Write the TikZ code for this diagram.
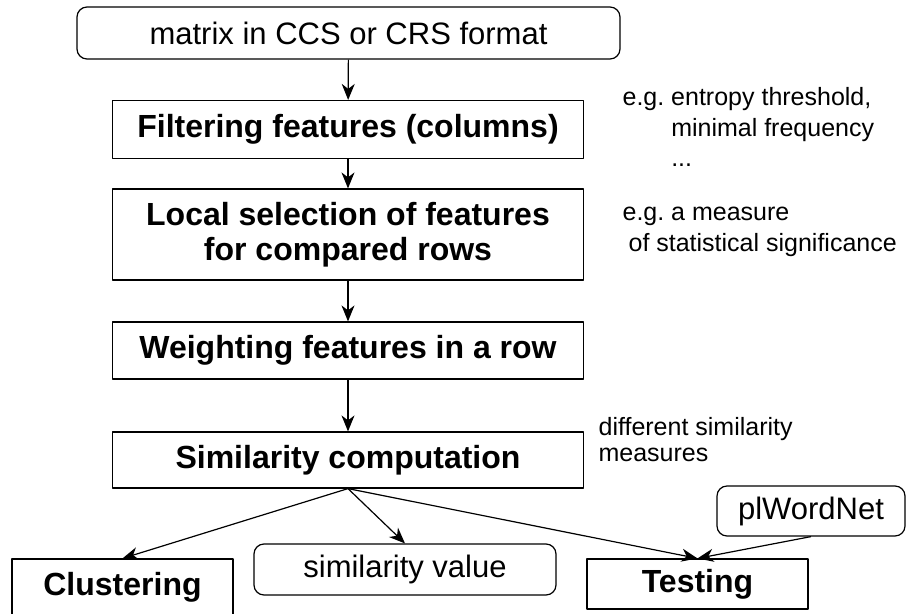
\documentclass[tikz,border=0pt]{standalone}
\usepackage{fontspec}
\setmainfont{Liberation Sans}
\usetikzlibrary{arrows.meta}

\begin{document}
\begin{tikzpicture}[x=1pt,y=-1pt,line join=round,line width=1.2pt,
    >={Stealth[length=16pt,width=13pt,inset=5pt]}]
	\tikzset{
		stage/.style={draw,rectangle,minimum width=471pt,inner sep=0pt,align=center,
			font=\fontsize{32}{35}\selectfont\bfseries},
		datum/.style={draw,rectangle,rounded corners=10pt,inner sep=0pt,
			font=\fontsize{31}{37}\selectfont},
		outcome/.style={draw,rectangle,inner sep=0pt,font=\fontsize{32}{37}\selectfont\bfseries},
		remark/.style={anchor=north west,align=left,inner sep=0pt,font=\fontsize{25}{30.5}\selectfont}
	}
	\useasboundingbox (0,0) rectangle (907,613);
	% pipeline
	\node[datum,minimum width=543pt,minimum height=52pt] (src) at (348.5,33) {matrix in CCS or CRS format};
	\node[stage,minimum height=58pt] (filt) at (348,129.5) {Filtering features (columns)};
	\node[stage,minimum height=91pt] (local) at (348,234.5) {Local selection of features\\for compared rows};
	\node[stage,minimum height=57pt] (weight) at (348,350.5) {Weighting features in a row};
	\node[stage,minimum height=56pt] (simc) at (348,460) {Similarity computation};
	% results
	\node[outcome,minimum width=221pt,minimum height=57pt] (clus) at (122.5,587.5) {Clustering};
	\node[datum,minimum width=302pt,minimum height=51pt] (simval) at (405,569.5) {similarity value};
	\node[outcome,minimum width=221pt,minimum height=50pt] (test) at (697.5,584) {Testing};
	\node[datum,minimum width=188pt,minimum height=50pt] (wn) at (811,511) {plWordNet};
	% remarks (a strut fixes the top of the first line)
	\node[remark] (rem1) at (622,84) {\strut e.g.\ entropy threshold,\\\hphantom{e.g.\ }minimal frequency\\\hphantom{e.g.\ }...};
	\node[remark] (rem2) at (622,199) {\strut e.g.\ a measure\\\hspace*{6pt}of statistical significance};
	\node[remark,font=\fontsize{25}{26.5}\selectfont] (rem3) at (598,416) {\strut different similarity\\measures};
	% connectors
	\draw[->] (src) -- (filt);
	\draw[->] (filt) -- (local);
	\draw[->] (local) -- (weight);
	\draw[->] (weight) -- (simc);
	\draw[->] (simc.south) -- (clus.north);
	\draw[->] (simc.south) -- (simval.north);
	\draw[->] (simc.south) -- (test.north);
	\draw[->] (wn.south) -- (test.north);
\end{tikzpicture}
\end{document}
